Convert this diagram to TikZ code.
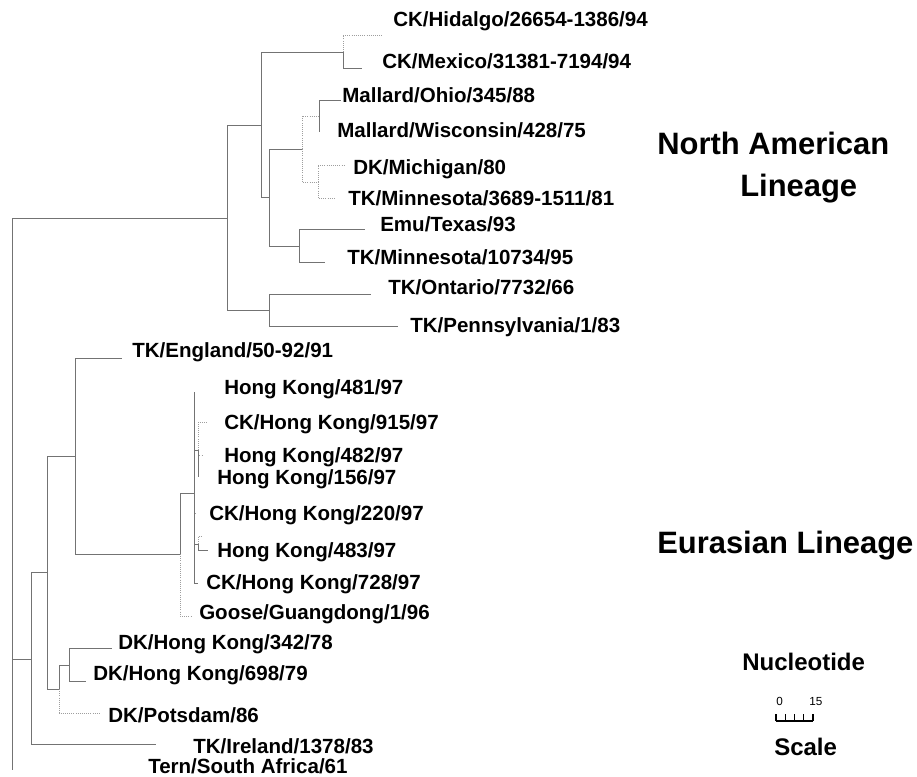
\documentclass[tikz,border=0pt]{standalone}
\usepackage{fontspec}
\setmainfont{Liberation Sans}
\begin{document}
\begin{tikzpicture}[x=0.75pt,y=-0.75pt,
  branch/.style={draw=black!55,line width=0.6pt},
  faint/.style={draw=black!38,line width=0.6pt,densely dotted},
  taxon/.style={anchor=base west,inner sep=0pt,font=\fontsize{15.4}{18}\selectfont\bfseries},
  lineage/.style={anchor=base west,inner sep=0pt,font=\fontsize{23.2}{26}\selectfont\bfseries},
  scaletext/.style={anchor=base west,inner sep=0pt,font=\fontsize{18}{20}\selectfont\bfseries},
  tiny/.style={anchor=base west,inner sep=0pt,font=\fontsize{8.8}{10}\selectfont}]
\useasboundingbox (0,0) rectangle (917,777);

% ---------- internal nodes ----------
\coordinate (root) at (12,659);
\coordinate (na)   at (227,218);
\coordinate (na1)  at (261,125);
\coordinate (hm)   at (343,52);
\coordinate (nb)   at (269,197);
\coordinate (nc)   at (302,149);
\coordinate (ne)   at (319,116);
\coordinate (nf)   at (318,182);
\coordinate (nd)   at (299,246);
\coordinate (na2)  at (269,310);
\coordinate (eu)   at (31,659);
\coordinate (ea)   at (47,572);
\coordinate (eb)   at (75,456);
\coordinate (ec)   at (180,554);
\coordinate (hk)   at (194,493);
\coordinate (hkc)  at (198,450);
\coordinate (hkd)  at (198,544);
\coordinate (dk)   at (59,689);
\coordinate (dkk)  at (69,665);

% ---------- tips ----------
\coordinate (t-hid)  at (382,35);
\coordinate (t-mex)  at (362,68);
\coordinate (t-ohio) at (341,100);
\coordinate (t-wisc) at (319,132);
\coordinate (t-mich) at (344,165);
\coordinate (t-min1) at (335,198);
\coordinate (t-emu)  at (365,229);
\coordinate (t-min2) at (325,262);
\coordinate (t-ont)  at (371,294);
\coordinate (t-pen)  at (398,326);
\coordinate (t-eng)  at (122,358);
\coordinate (t-481)  at (194,392);
\coordinate (t-915)  at (207,422);
\coordinate (t-482)  at (203,455);
\coordinate (t-156)  at (198,477);
\coordinate (t-220)  at (197,513);
\coordinate (t-220b) at (202,536);
\coordinate (t-483)  at (208,550);
\coordinate (t-728)  at (198,583);
\coordinate (t-goo)  at (192,616);
\coordinate (t-342)  at (112,648);
\coordinate (t-698)  at (86,681);
\coordinate (t-pot)  at (100,713);
\coordinate (t-irl)  at (156,744);
\coordinate (t-ter)  at (12,770);

% ---------- branches ----------
\draw[branch] (root) |- (na);
\draw[branch] (root) |- (eu);
\draw[branch] (root) -- (t-ter);
\draw[branch] (na) |- (na1);
\draw[branch] (na) |- (na2);
\draw[branch] (na1) |- (hm);
\draw[branch] (na1) |- (nb);
\draw[faint]  (hm) |- (t-hid);
\draw[branch] (hm) |- (t-mex);
\draw[branch] (nb) |- (nc);
\draw[branch] (nb) |- (nd);
\draw[faint]  (nc) |- (ne);
\draw[faint]  (nc) |- (nf);
\draw[branch] (ne) |- (t-ohio);
\draw[branch] (ne) |- (t-wisc);
\draw[faint]  (nf) |- (t-mich);
\draw[faint]  (nf) |- (t-min1);
\draw[branch] (nd) |- (t-emu);
\draw[branch] (nd) |- (t-min2);
\draw[branch] (na2) |- (t-ont);
\draw[branch] (na2) |- (t-pen);

\draw[branch] (eu) |- (ea);
\draw[branch] (eu) |- (t-irl);
\draw[branch] (ea) |- (eb);
\draw[branch] (ea) |- (dk);
\draw[branch] (eb) |- (t-eng);
\draw[branch] (eb) |- (ec);
\draw[branch] (ec) |- (hk);
\draw[faint]  (ec) |- (t-goo);
\draw[branch] (hk) |- (t-481);
\draw[branch] (hk) |- (hkc);
\draw[faint]  (hk) |- (t-220);
\draw[branch] (hk) |- (hkd);
\draw[branch] (hk) |- (t-728);
\draw[faint]  (hkc) |- (t-915);
\draw[faint]  (hkc) |- (t-482);
\draw[branch] (hkc) |- (t-156);
\draw[faint]  (hkd) |- (t-220b);
\draw[branch] (hkd) |- (t-483);
\draw[branch] (dk) |- (dkk);
\draw[faint]  (dk) |- (t-pot);
\draw[branch] (dkk) |- (t-342);
\draw[branch] (dkk) |- (t-698);

% ---------- taxon labels ----------
\node[taxon] (l-hid)  at (393,27)  {CK/Hidalgo/26654-1386/94};
\node[taxon] (l-mex)  at (382,69)  {CK/Mexico/31381-7194/94};
\node[taxon] (l-ohio) at (342,103) {Mallard/Ohio/345/88};
\node[taxon] (l-wisc) at (337,138) {Mallard/Wisconsin/428/75};
\node[taxon] (l-mich) at (353,175) {DK/Michigan/80};
\node[taxon] (l-min1) at (348,206) {TK/Minnesota/3689-1511/81};
\node[taxon] (l-emu)  at (380,232) {Emu/Texas/93};
\node[taxon] (l-min2) at (347,265) {TK/Minnesota/10734/95};
\node[taxon] (l-ont)  at (388,295) {TK/Ontario/7732/66};
\node[taxon] (l-pen)  at (410,332) {TK/Pennsylvania/1/83};
\node[taxon] (l-eng)  at (132,357) {TK/England/50-92/91};
\node[taxon] (l-481)  at (224,394) {Hong Kong/481/97};
\node[taxon] (l-915)  at (224,429) {CK/Hong Kong/915/97};
\node[taxon] (l-482)  at (224,462) {Hong Kong/482/97};
\node[taxon] (l-156)  at (217,484) {Hong Kong/156/97};
\node[taxon] (l-220)  at (209,520) {CK/Hong Kong/220/97};
\node[taxon] (l-483)  at (217,557) {Hong Kong/483/97};
\node[taxon] (l-728)  at (206,589) {CK/Hong Kong/728/97};
\node[taxon] (l-goo)  at (199,619) {Goose/Guangdong/1/96};
\node[taxon] (l-342)  at (118,649) {DK/Hong Kong/342/78};
\node[taxon] (l-698)  at (93,680)  {DK/Hong Kong/698/79};
\node[taxon] (l-pot)  at (108,722) {DK/Potsdam/86};
\node[taxon] (l-irl)  at (193,753) {TK/Ireland/1378/83};
\node[taxon] (l-ter)  at (148,773) {Tern/South Africa/61};

% ---------- lineage titles ----------
\node[lineage] (t-na1) at (657,155) {North American};
\node[lineage] (t-na2) at (740,197) {Lineage};
\node[lineage] (t-eu)  at (657,553) {Eurasian Lineage};

% ---------- scale ----------
\node[scaletext] (s-nuc) at (742,670) {Nucleotide};
\node[tiny] (s-0)  at (776,705) {0};
\node[tiny] (s-15) at (809,705) {15};
\coordinate (s-a) at (776,721);
\coordinate (s-b) at (813,721);
\draw[black,line width=0.9pt] (s-a) -- (s-b);
\foreach \tx in {776,785.25,794.5,803.75,813}
  \draw[black,line width=0.9pt] (\tx,721) -- (\tx,714);
\node[scaletext] (s-sc) at (774,755) {Scale};
\end{tikzpicture}
\end{document}
